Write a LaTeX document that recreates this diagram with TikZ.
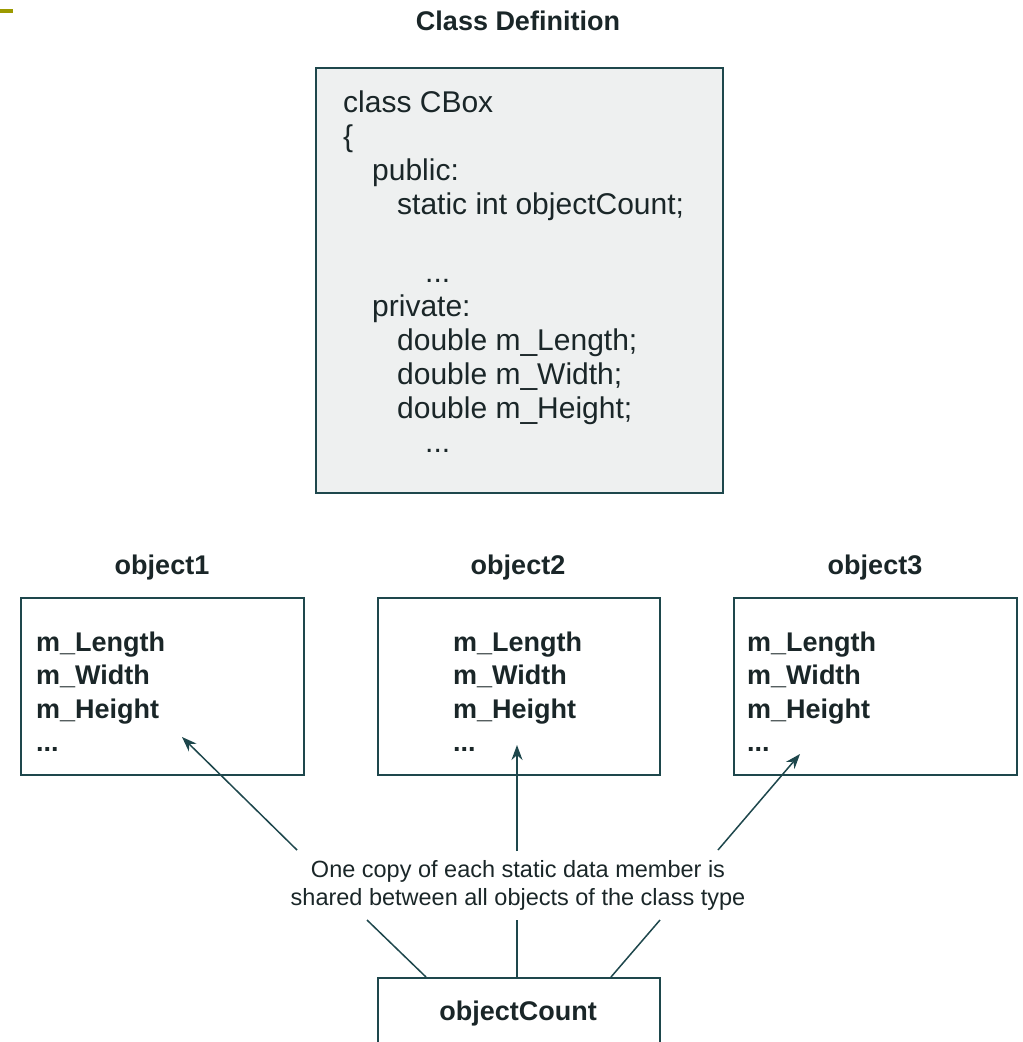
\documentclass[tikz,border=0pt]{standalone}
\usepackage{fontspec}
\setmainfont{Liberation Sans}
\usetikzlibrary{arrows.meta}
\definecolor{edge}{HTML}{1E474C}
\definecolor{ink}{HTML}{1A2628}
\definecolor{boxfill}{HTML}{EEF0F0}
\definecolor{olivebar}{HTML}{9C9A00}
\begin{document}
\begin{tikzpicture}[x=1pt,y=-1pt,
  frame/.style={draw=edge, line width=1.8pt, rectangle, anchor=north west, inner sep=0pt},
  code/.style={anchor=base west, inner sep=0pt, text=ink, font=\fontsize{30}{34}\selectfont},
  member/.style={anchor=base west, inner sep=0pt, text=ink, font=\fontsize{27}{32}\selectfont\bfseries},
  title/.style={anchor=base, inner sep=0pt, text=ink, font=\fontsize{27}{32}\selectfont\bfseries},
  note/.style={anchor=base, inner sep=0pt, text=ink, font=\fontsize{23.5}{28}\selectfont},
  link/.style={draw=edge, line width=1.5pt},
  pointer/.style={link, -{Stealth[length=15pt,width=11pt]}}]
\useasboundingbox (0,0) rectangle (1023,1042);
\fill[olivebar] (0,9) rectangle (13,13);

% class definition
\node[title] (classtitle) at (518,30) {Class Definition};
\node[frame, fill=boxfill, minimum width=407pt, minimum height=425pt] (classbox) at (315,67) {};
\node[code] (c1) at (343,112) {class CBox};
\node[code] (c2) at (343,146) {\{};
\node[code] (c3) at (372,180) {public:};
\node[code] (c4) at (397,214) {static int objectCount;};
\node[code] (c5) at (425,282) {...};
\node[code] (c6) at (372,316) {private:};
\node[code] (c7) at (397,350) {double m\_Length;};
\node[code] (c8) at (397,384) {double m\_Width;};
\node[code] (c9) at (397,418) {double m\_Height;};
\node[code] (c10) at (425,452) {...};

% objects
\node[title] (o1title) at (162,574) {object1};
\node[title] (o2title) at (518,574) {object2};
\node[title] (o3title) at (875,574) {object3};
\node[frame, fill=white, minimum width=283pt, minimum height=177pt] (obj1) at (20,597) {};
\node[frame, fill=white, minimum width=282pt, minimum height=177pt] (obj2) at (377,597) {};
\node[frame, fill=white, minimum width=283pt, minimum height=177pt] (obj3) at (733,597) {};
\foreach \n/\x in {1/36, 2/453, 3/747} {
  \node[member] (m\n a) at (\x,651) {m\_Length};
  \node[member] (m\n b) at (\x,684.5) {m\_Width};
  \node[member] (m\n c) at (\x,718) {m\_Height};
  \node[member] (m\n d) at (\x,751.5) {...};
}

% note
\node[note] (note1) at (518,877) {One copy of each static data member is};
\node[note] (note2) at (518,905) {shared between all objects of the class type};

% objectCount
\node[frame, fill=white, minimum width=282pt, minimum height=100pt] (countbox) at (377,977) {};
\node[title] (counttext) at (518,1020) {objectCount};

% connectors
\coordinate (tipA) at (182,737);
\coordinate (tipB) at (517,745);
\coordinate (tipC) at (800,754);
\coordinate (tailA) at (297,850);
\coordinate (tailB) at (517,851);
\coordinate (tailC) at (718,850);
\coordinate (upA) at (367,920);
\coordinate (upB) at (517,920);
\coordinate (upC) at (660,920);
\coordinate (footA) at (426,977);
\coordinate (footB) at (517,977);
\coordinate (footC) at (611,977);
\draw[pointer] (tailA) -- (tipA);
\draw[pointer] (tailB) -- (tipB);
\draw[pointer] (tailC) -- (tipC);
\draw[link] (footA) -- (upA);
\draw[link] (footB) -- (upB);
\draw[link] (footC) -- (upC);
\end{tikzpicture}
\end{document}
